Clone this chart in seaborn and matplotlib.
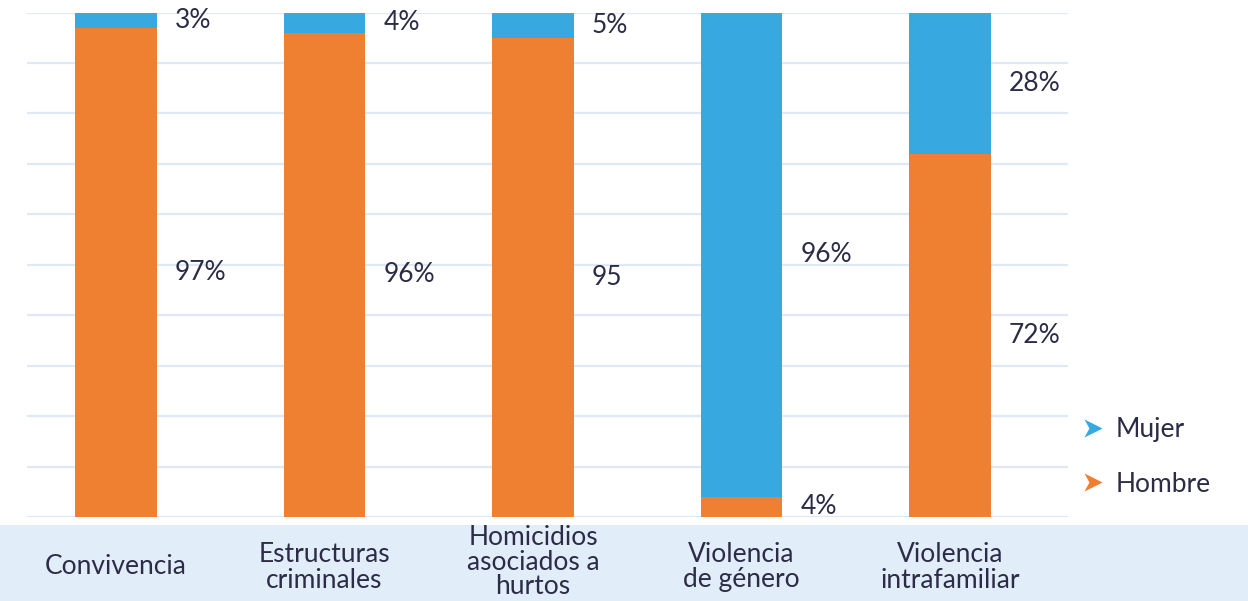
import matplotlib
matplotlib.use("Agg")
import matplotlib.pyplot as plt
from matplotlib.lines import Line2D
from matplotlib.patches import Rectangle
from matplotlib.path import Path
import seaborn as sns
import pandas as pd
import numpy as np

# Data: share of each crime category by sex (%)
categorias = [
    "Convivencia",
    "Estructuras\ncriminales",
    "Homicidios\nasociados a\nhurtos",
    "Violencia\nde género",
    "Violencia\nintrafamiliar",
]
hombre = [97, 96, 95, 4, 72]
mujer = [3, 4, 5, 96, 28]
etiquetas_hombre = ["97%", "96%", "95", "4%", "72%"]
etiquetas_mujer = ["3%", "4%", "5%", "96%", "28%"]

COLOR_MUJER = "#37A8E0"
COLOR_HOMBRE = "#EF7F31"
COLOR_TEXTO = "#2C2C46"
COLOR_GRID = "#DDE9F7"
COLOR_BANDA = "#E2EDFA"

sns.set_theme(style="white")
plt.rcParams["font.family"] = ["Lato", "DejaVu Sans"]
FS = 19

df = pd.DataFrame({
    "categoria": categorias,
    "hombre": hombre,
    "mujer": mujer,
})
df["total"] = df["hombre"] + df["mujer"]

W, H = 1248, 601
fig = plt.figure(figsize=(W / 100, H / 100), dpi=100)

# light band behind the category labels
fig.patches.append(Rectangle((0, 0), 1, (H - 525) / H, transform=fig.transFigure,
                             facecolor=COLOR_BANDA, edgecolor="none", zorder=-5))

ax_left, ax_right = 27 / W, 1068 / W
ax_top, ax_bottom = 1 - 12.5 / H, 1 - 517 / H
ax = fig.add_axes([ax_left, ax_bottom, ax_right - ax_left, ax_top - ax_bottom])
ax.set_facecolor("none")

ancho = 0.39
sns.barplot(data=df, x="categoria", y="total", color=COLOR_MUJER, width=ancho,
            saturation=1, ax=ax, zorder=3, edgecolor="none")
sns.barplot(data=df, x="categoria", y="hombre", color=COLOR_HOMBRE, width=ancho,
            saturation=1, ax=ax, zorder=4, edgecolor="none")

ax.set_xlim(-0.427, 4.566)
ax.set_ylim(0, 100)
ax.set_yticks(np.arange(0, 101, 10))
ax.yaxis.grid(True, color=COLOR_GRID, linewidth=1.6, zorder=0)
ax.set_axisbelow(True)
ax.tick_params(left=False, bottom=False, labelleft=False, labelbottom=False)
ax.set_xlabel("")
ax.set_ylabel("")
for s in ax.spines.values():
    s.set_visible(False)

# value labels to the right of each segment
for i in range(len(categorias)):
    y_h = hombre[i] / 2
    y_m = hombre[i] + mujer[i] / 2
    for yv, txt in ((y_h, etiquetas_hombre[i]), (y_m, etiquetas_mujer[i])):
        ax.annotate(txt, xy=(i + ancho / 2, yv), xytext=(13, 0),
                    textcoords="offset points", ha="left", va="center",
                    fontsize=FS, color=COLOR_TEXTO, annotation_clip=False)

# category labels inside the bottom band
trans = matplotlib.transforms.blended_transform_factory(ax.transData, fig.transFigure)
for i, cat in enumerate(categorias):
    n_lineas = cat.count("\n") + 1
    y_pix = 567 if n_lineas < 3 else 562
    ax.text(i, 1 - y_pix / H, cat, transform=trans, ha="center", va="center",
            fontsize=FS, color=COLOR_TEXTO,
            linespacing=1.05 if n_lineas < 3 else 0.98, clip_on=False,
            zorder=10)

# arrowhead marker for the legend
flecha = Path([(-1, 1), (1, 0), (-1, -1), (-0.45, 0), (-1, 1)],
              [Path.MOVETO, Path.LINETO, Path.LINETO, Path.LINETO, Path.CLOSEPOLY])
handles = [
    Line2D([], [], marker=flecha, linestyle="none", markersize=13,
           markerfacecolor=COLOR_MUJER, markeredgecolor="none"),
    Line2D([], [], marker=flecha, linestyle="none", markersize=13,
           markerfacecolor=COLOR_HOMBRE, markeredgecolor="none"),
]
leg = fig.legend(handles, ["Mujer", "Hombre"], loc="center left",
                 bbox_to_anchor=(1056 / W, 1 - 457 / H), frameon=False,
                 fontsize=FS, labelcolor=COLOR_TEXTO, handlelength=1.0,
                 handletextpad=0.35, labelspacing=1.1)

fig.savefig("out.png", dpi=100)
